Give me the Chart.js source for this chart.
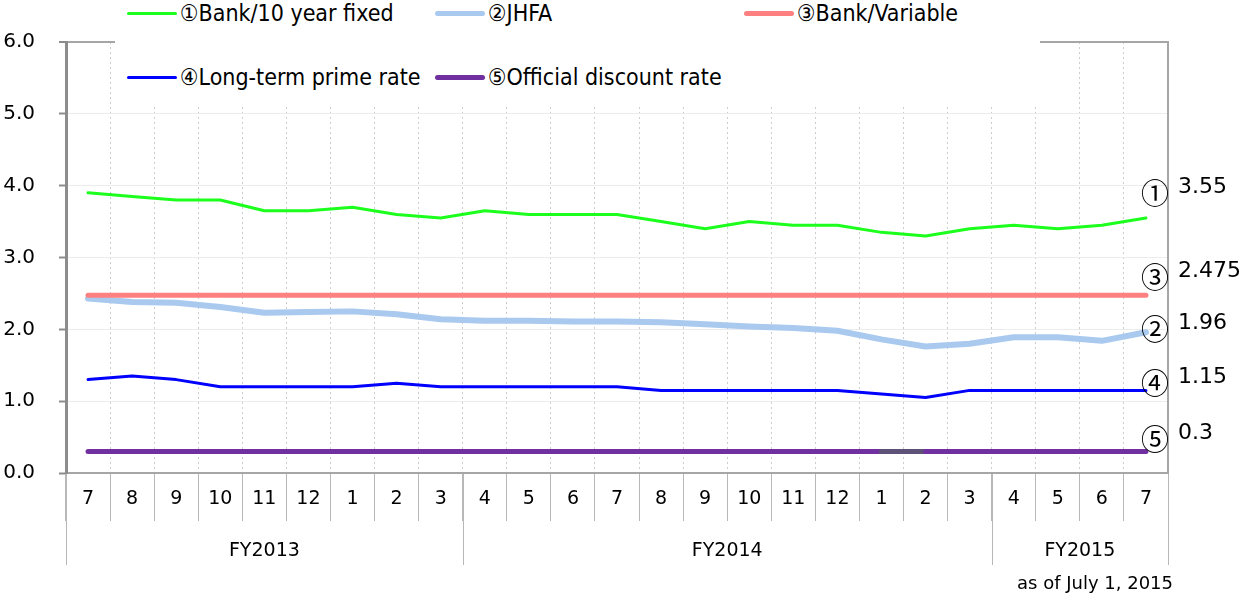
<!DOCTYPE html>
<html>
<head>
<meta charset="utf-8">
<script src="https://cdn.jsdelivr.net/npm/chart.js@4"></script>
<style>
  html, body { margin: 0; padding: 0; background: #fff; }
  #wrap { position: relative; width: 1244px; height: 597px; }
  #legend {
    position: absolute; left: 115px; top: 0; width: 925px; height: 107px;
    background: #fff; color: #000;
    font-family: 'DejaVu Sans Condensed', 'DejaVu Sans', sans-serif; font-size: 23px;
  }
  .item { position: absolute; display: flex; align-items: center; white-space: nowrap; height: 26px; }
  .swatch { width: 50px; border-radius: 3px; margin-right: 3px; }
</style>
</head>
<body>
<div id="wrap">
  <canvas id="chart" width="1244" height="597"></canvas>
  <div id="legend"></div>
</div>
<script>
// months, Jul 2013 .. Jul 2015
const months = ['7', '8', '9', '10', '11', '12', '1', '2', '3',
  '4', '5', '6', '7', '8', '9', '10', '11', '12', '1', '2', '3',
  '4', '5', '6', '7'];
const fiscalYears = ['FY2013', 'FY2014', 'FY2015'];
const monthsPerYear = [9, 12, 4];

const bankFixed10 = [3.90, 3.85, 3.80, 3.80, 3.65, 3.65, 3.70, 3.60, 3.55,
  3.65, 3.60, 3.60, 3.60, 3.50, 3.40, 3.50, 3.45, 3.45, 3.35, 3.30, 3.40,
  3.45, 3.40, 3.45, 3.55];
const jhfa = [2.43, 2.38, 2.37, 2.31, 2.23, 2.24, 2.25, 2.21, 2.14,
  2.12, 2.12, 2.11, 2.11, 2.10, 2.07, 2.04, 2.02, 1.98, 1.86, 1.76, 1.80,
  1.89, 1.89, 1.84, 1.96];
const bankVariable = [2.475, 2.475, 2.475, 2.475, 2.475, 2.475, 2.475, 2.475, 2.475,
  2.475, 2.475, 2.475, 2.475, 2.475, 2.475, 2.475, 2.475, 2.475, 2.475, 2.475, 2.475,
  2.475, 2.475, 2.475, 2.475];
const longPrime = [1.30, 1.35, 1.30, 1.20, 1.20, 1.20, 1.20, 1.25, 1.20,
  1.20, 1.20, 1.20, 1.20, 1.15, 1.15, 1.15, 1.15, 1.15, 1.10, 1.05, 1.15,
  1.15, 1.15, 1.15, 1.15];
const discountRate = [0.3, 0.3, 0.3, 0.3, 0.3, 0.3, 0.3, 0.3, 0.3,
  0.3, 0.3, 0.3, 0.3, 0.3, 0.3, 0.3, 0.3, 0.3, 0.3, 0.3, 0.3,
  0.3, 0.3, 0.3, 0.3];

const yTicks = [0, 1, 2, 3, 4, 5, 6];

const FONT = "'DejaVu Sans', Verdana, sans-serif";
const MARK_FONT = "'Noto Sans CJK JP', 'DejaVu Sans', sans-serif";
const AXIS_GRAY = '#a6a6a6';

const series = [
  { mark: '①', label: 'Bank/10 year fixed', data: bankFixed10, color: '#1cff1c', width: 3, order: 0, dy: -31 },
  { mark: '②', label: 'JHFA', data: jhfa, color: '#a9c9ef', width: 6, order: 3, dy: -9 },
  { mark: '③', label: 'Bank/Variable', data: bankVariable, color: '#ff8080', width: 5, order: 2, dy: -24 },
  { mark: '④', label: 'Long-term prime rate', data: longPrime, color: '#0000ff', width: 3, order: 1, dy: -13 },
  { mark: '⑤', label: 'Official discount rate', data: discountRate, color: '#7030a0', width: 5, order: 4, dy: -18 },
];

// legend is an html box laid over the top of the plot, like in the original
const legendSlots = [[12, 0], [320, 0], [629, 0], [12, 64], [320, 64]];
const legend = document.getElementById('legend');
series.forEach((s, i) => {
  const item = document.createElement('div');
  item.className = 'item';
  item.style.left = legendSlots[i][0] + 'px';
  item.style.top = legendSlots[i][1] + 'px';
  const sw = document.createElement('span');
  sw.className = 'swatch';
  sw.style.height = Math.min(s.width, 5) + 'px';
  sw.style.background = s.color;
  const txt = document.createElement('span');
  txt.textContent = s.mark + s.label;
  item.appendChild(sw);
  item.appendChild(txt);
  legend.appendChild(item);
});

const framePlugin = {
  id: 'frame',
  afterDraw(chart) {
    const { ctx, chartArea } = chart;
    const x = chart.scales.x;
    const y = chart.scales.y;
    const step = x.getPixelForValue(1) - x.getPixelForValue(0);
    const bottom = 565;

    ctx.save();
    // right frame line, running down through the axis rows
    ctx.strokeStyle = AXIS_GRAY;
    ctx.lineWidth = 2;
    ctx.beginPath();
    ctx.moveTo(chartArea.right, chartArea.top - 1);
    ctx.lineTo(chartArea.right, chartArea.bottom);
    ctx.stroke();

    // fiscal year separators + labels
    ctx.strokeStyle = '#b8b8b8';
    ctx.lineWidth = 1;
    ctx.fillStyle = '#000';
    ctx.font = '19px ' + FONT;
    ctx.textAlign = 'center';
    ctx.textBaseline = 'middle';
    let start = 0;
    const edges = [0];
    monthsPerYear.forEach(n => { start += n; edges.push(start); });
    edges.forEach(e => {
      const px = Math.round(x.getPixelForValue(e) - step / 2) + 0.5;
      ctx.beginPath();
      ctx.moveTo(px, chartArea.bottom + 1);
      ctx.lineTo(px, bottom);
      ctx.stroke();
    });
    fiscalYears.forEach((fy, i) => {
      const a = x.getPixelForValue(edges[i]) - step / 2;
      const b = x.getPixelForValue(edges[i + 1]) - step / 2;
      ctx.fillText(fy, (a + b) / 2, 551);
    });

    // end-of-line value tags on the right
    const last = months.length - 1;
    series.forEach(s => {
      const v = s.data[last];
      const py = y.getPixelForValue(v) + s.dy;
      ctx.font = '28px ' + MARK_FONT;
      ctx.textAlign = 'center';
      ctx.fillText(s.mark, 1155, py + 6);
      ctx.font = '22px ' + FONT;
      ctx.textAlign = 'left';
      ctx.fillText(String(v), 1178, py);
    });

    ctx.font = '18px ' + FONT;
    ctx.textAlign = 'right';
    ctx.fillText('as of July 1, 2015', 1173, 584);
    ctx.restore();
  }
};

new Chart(document.getElementById('chart'), {
  type: 'line',
  data: {
    labels: months,
    datasets: series.map(s => ({
      label: s.label,
      data: s.data,
      borderColor: s.color,
      borderWidth: s.width,
      order: s.order,
      pointRadius: 0,
      tension: 0,
      borderCapStyle: 'round',
      borderJoinStyle: 'round',
      // the discount line has a greyed stretch Jan-Feb 2015 in the source
      segment: s.data === discountRate
        ? { borderColor: c => (c.p0DataIndex === 18 ? '#5f5278' : undefined) }
        : undefined,
    })),
  },
  options: {
    responsive: false,
    animation: false,
    layout: { padding: { top: 42, right: 76, left: 0, bottom: 0 } },
    plugins: { legend: { display: false }, tooltip: { enabled: false } },
    scales: {
      x: {
        offset: true,
        grid: {
          offset: true,
          color: '#cccccc',
          lineWidth: 1,
          drawTicks: true,
          tickLength: 48,
          tickColor: '#b8b8b8',
          tickWidth: 1,
        },
        border: { color: AXIS_GRAY, width: 2, dash: [2, 3] },
        ticks: {
          color: '#000',
          font: { family: FONT, size: 19 },
          padding: -33,
          maxRotation: 0,
          autoSkip: false,
        },
        afterFit: s => { s.height = 124; },
      },
      y: {
        min: 0,
        max: 6,
        afterBuildTicks: s => { s.ticks = yTicks.map(v => ({ value: v })); },
        ticks: {
          color: '#000',
          font: { family: FONT, size: 20 },
          padding: 24,
          callback: v => v.toFixed(1),
        },
        grid: {
          color: c => (c.tick && c.tick.value === 6 ? AXIS_GRAY : '#ececec'),
          lineWidth: c => (c.tick && c.tick.value === 6 ? 2 : 1),
          tickLength: 7,
          tickColor: '#8c8c8c',
          tickWidth: 2,
        },
        border: { color: '#8c8c8c', width: 3 },
        afterFit: s => { s.width = 66; },
      },
    },
  },
  plugins: [framePlugin],
});
</script>
</body>
</html>
